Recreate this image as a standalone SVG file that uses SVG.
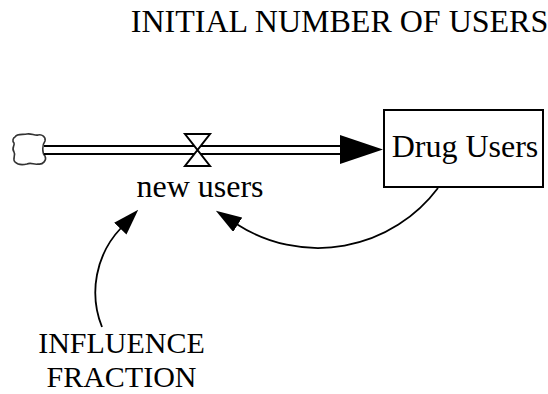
<svg xmlns="http://www.w3.org/2000/svg" width="548" height="394" viewBox="0 0 548 394">
  <style>
    .lbl { font-family: "Liberation Serif", "Times New Roman", serif; font-size: 32px; fill: #000; text-anchor: middle; }
    .sm { font-size: 30px; }
    .pipe { stroke: #000; stroke-width: 2; fill: none; }
    .link { stroke: #000; stroke-width: 1.8; fill: none; marker-end: url(#ah); }
  </style>
  <defs>
    <marker id="ah" markerUnits="userSpaceOnUse" markerWidth="26" markerHeight="17" viewBox="0 0 26 17" refX="1" refY="8.5" orient="auto">
      <path d="M0,0 L26,8.5 L0,17 z" fill="#000"/>
    </marker>
  </defs>
  <rect width="548" height="394" fill="#fff"/>

  <g id="initial-number-of-users">
    <text class="lbl" x="339.5" y="32">INITIAL NUMBER OF USERS</text>
  </g>

  <g id="source-cloud">
    <path d="M15,137 C17,133 23,135 27,134 C31,133 35,136 38,135 C42,134 46,137 45,141 C42,145 42,153 45,156 C47,160 43,165 38,164 C34,165 31,162 27,164 C23,165 18,165 15,162 C12,159 16,155 14,152 C11,148 15,146 14,143 C12,141 13,138 15,137 Z" fill="#fff" stroke="#333" stroke-width="1.6"/>
  </g>

  <g id="flow-pipe">
    <line class="pipe" x1="44" y1="146" x2="342" y2="146"/>
    <line class="pipe" x1="44" y1="154" x2="342" y2="154"/>
    <polygon points="340,135 383,149.5 340,164" fill="#000"/>
  </g>

  <g id="new-users">
    <path d="M185,134 L210,134 L185,166 L210,166 Z" fill="#fff" stroke="#000" stroke-width="2" stroke-linejoin="miter"/>
    <text class="lbl" x="200" y="197">new users</text>
  </g>

  <g id="drug-users">
    <rect x="384" y="110" width="159" height="77" fill="#fff" stroke="#000" stroke-width="2"/>
    <text class="lbl" x="465" y="157">Drug Users</text>
  </g>

  <g id="influence-fraction">
    <text class="lbl sm" x="121.5" y="353"><tspan x="121.5">INFLUENCE</tspan><tspan x="121.5" dy="34">FRACTION</tspan></text>
  </g>

  <g id="connectors">
    <path class="link" d="M438,188 A150,150 0 0 1 236.9,224.2"/>
    <path class="link" d="M102,327 A93.4,93.4 0 0 1 121,228"/>
  </g>
</svg>
